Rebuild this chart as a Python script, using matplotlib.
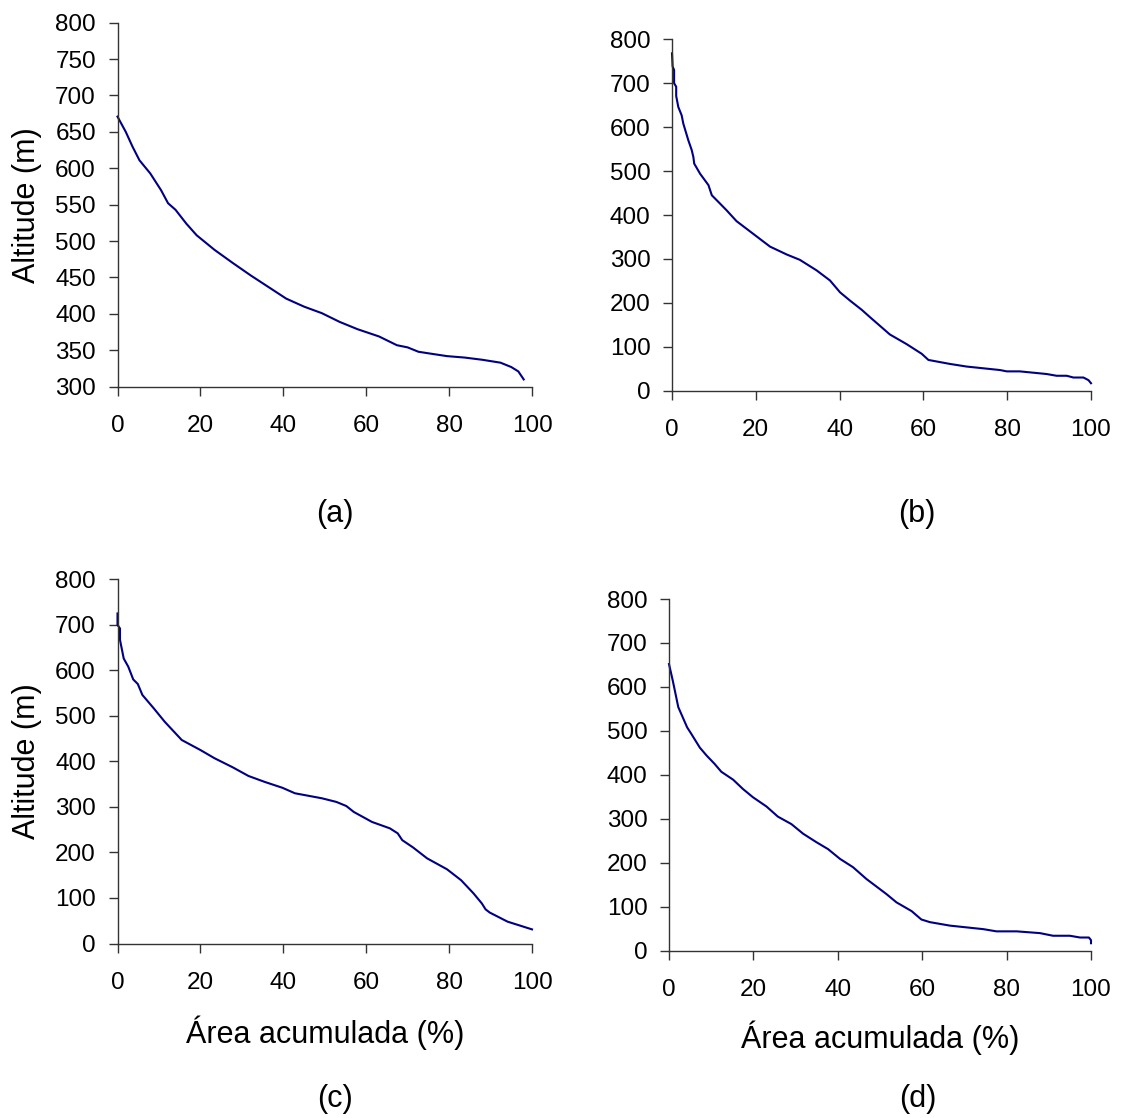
import matplotlib
matplotlib.use("Agg")
import matplotlib.pyplot as plt

plt.rcParams['font.family'] = ['Liberation Sans', 'DejaVu Sans']

# ---- data ----
a_x = [0, 2, 3.6, 5.3, 7.9, 10.5, 12.2, 14, 16.6, 19.1, 23.4, 27.8, 32.1, 36.4, 40.7, 45, 49.3,
       53.6, 57.9, 63.1, 67.4, 70, 72.6, 76, 79.5, 83.8, 88, 92.4, 95, 96.7, 98]
a_y = [671, 650, 630, 611, 593, 570, 552, 543, 524, 508, 488, 470, 453, 437, 421, 410, 401,
       389, 379, 369, 357, 354, 348, 345, 342, 340, 337, 333, 327, 321, 310]

b_x = [0, 0.15, 0.5, 0.5, 1.0, 1.0, 1.5, 2.3, 2.7, 3.9, 4.7, 5.1, 5.3, 6.7, 8.7, 9.5, 13.0, 15.4,
       19.4, 23.4, 27.4, 30.5, 34.5, 37.7, 40.1, 42.5, 45.3, 47.3, 52.0, 56.0, 59.6, 61.2, 66.3,
       70.3, 78.3, 79.9, 83.0, 89.4, 91.8, 94.2, 95.8, 98.2, 99.4, 100]
b_y = [768, 738, 730, 700, 692, 671, 646, 627, 608, 570, 548, 532, 517, 494, 468, 445, 411, 386,
       357, 328, 310, 298, 274, 251, 224, 205, 184, 167, 128, 106, 84, 70, 61,
       55, 47, 44, 44, 38, 34, 34, 30, 30, 24, 17]

c_x = [0, 0, 0.6, 0.6, 1.5, 2.6, 3.8, 4.9, 6.0, 8.8, 11.4, 15.5, 20.0, 23.4, 27.8, 31.6, 35.5,
       39.8, 42.8, 49.3, 52.8, 55.2, 57.0, 61.4, 65.7, 67.6, 68.7, 71.3, 74.7, 76.9, 79.5, 82.9,
       85.9, 87.9, 88.8, 89.8, 94.1, 100]
c_y = [725, 700, 692, 667, 626, 608, 580, 570, 546, 516, 487, 447, 425, 407, 387, 368, 355,
       342, 330, 319, 311, 302, 289, 267, 253, 242, 227, 211, 187, 176, 163, 139,
       110, 88, 75, 68, 48, 31]

d_x = [0, 0.9, 2.2, 4.3, 5.3, 7.3, 8.9, 10.8, 12.4, 15.2, 17.5, 19.9, 23.1, 25.8, 29.0, 31.8,
       34.9, 37.7, 40.5, 43.6, 46.8, 51.5, 53.9, 57.5, 59.8, 61.8, 66.6, 74.5, 77.6, 82.4, 87.9,
       91.0, 95.0, 97.4, 99.5, 100, 100]
d_y = [652, 614, 554, 508, 493, 462, 444, 425, 407, 389, 368, 349, 328, 305, 288, 266,
       247, 231, 209, 190, 163, 129, 110, 90, 71, 65, 57, 49, 44, 44, 40,
       34, 34, 30, 30, 24, 17]

x_ticks = [0, 20, 40, 60, 80, 100]
a_yticks = [300, 350, 400, 450, 500, 550, 600, 650, 700, 750, 800]
bcd_yticks = [0, 100, 200, 300, 400, 500, 600, 700, 800]
panel_labels = ['(a)', '(b)', '(c)', '(d)']
ylabel_text = 'Altitude (m)'
xlabel_text = 'Área acumulada (%)'

W, H = 1123, 1118
fig = plt.figure(figsize=(W / 100, H / 100), dpi=100)

def px_axes(left, right, top, bottom):
    return fig.add_axes([left / W, 1 - bottom / H, (right - left) / W, (bottom - top) / H])

line_color = '#000080'
spine_color = '#333333'

specs = [
    (a_x, a_y, (117.5, 532, 22.7, 386.7), (300, 800), a_yticks),
    (b_x, b_y, (672, 1091, 39.3, 390.7), (0, 800), bcd_yticks),
    (c_x, c_y, (117.5, 532, 579.3, 943.5), (0, 800), bcd_yticks),
    (d_x, d_y, (669, 1091, 599, 950.7), (0, 800), bcd_yticks),
]

axes = []
for xs, ys, box, ylim, yt in specs:
    ax = px_axes(*box)
    ax.plot(xs, ys, color=line_color, lw=1.5, clip_on=False, solid_joinstyle='round')
    ax.set_xlim(0, 100)
    ax.set_ylim(*ylim)
    ax.set_xticks(x_ticks)
    ax.set_yticks(yt)
    for s in ['top', 'right']:
        ax.spines[s].set_visible(False)
    for s in ['left', 'bottom']:
        ax.spines[s].set_color(spine_color)
        ax.spines[s].set_linewidth(1.0)
    ax.tick_params(axis='both', direction='out', length=6.5, width=1.0, color=spine_color,
                   labelsize=17.5, labelcolor='black')
    ax.tick_params(axis='x', pad=14)
    ax.tick_params(axis='y', pad=9)
    axes.append(ax)

# y labels
fig.text(27 / W, 1 - 204.7 / H, ylabel_text, rotation=90, ha='center', va='center', fontsize=22)
fig.text(27 / W, 1 - 761.4 / H, ylabel_text, rotation=90, ha='center', va='center', fontsize=22)

# x labels
fig.text(324.7 / W, 1 - 1033 / H, xlabel_text, ha='center', va='center', fontsize=22)
fig.text(880 / W, 1 - 1038 / H, xlabel_text, ha='center', va='center', fontsize=22)

# panel labels
fig.text(335 / W, 1 - 514 / H, panel_labels[0], ha='center', va='center', fontsize=22)
fig.text(917 / W, 1 - 514 / H, panel_labels[1], ha='center', va='center', fontsize=22)
fig.text(335 / W, 1 - 1099 / H, panel_labels[2], ha='center', va='center', fontsize=22)
fig.text(918 / W, 1 - 1099 / H, panel_labels[3], ha='center', va='center', fontsize=22)

fig.savefig('out.png', dpi=100, facecolor='white')
